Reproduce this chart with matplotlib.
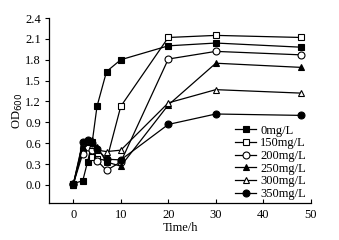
import matplotlib
matplotlib.use("Agg")
import matplotlib.pyplot as plt

plt.rcParams['font.family'] = ['Liberation Serif', 'DejaVu Serif']

times = [0, 2, 3, 4, 5, 7, 10, 20, 30, 48]
labels = ["0mg/L", "150mg/L", "200mg/L", "250mg/L", "300mg/L", "350mg/L"]
od_0 = [0.02, 0.06, 0.33, 0.62, 1.13, 1.63, 1.80, 2.00, 2.04, 1.98]
od_150 = [0.02, 0.50, 0.60, 0.40, 0.38, 0.35, 1.13, 2.12, 2.15, 2.12]
od_200 = [0.01, 0.45, 0.55, 0.50, 0.35, 0.21, 0.33, 1.81, 1.92, 1.87]
od_250 = [0.00, 0.55, 0.62, 0.65, 0.55, 0.33, 0.27, 1.15, 1.75, 1.69]
od_300 = [0.00, 0.60, 0.63, 0.58, 0.50, 0.48, 0.50, 1.18, 1.37, 1.32]
od_350 = [0.01, 0.62, 0.64, 0.60, 0.52, 0.37, 0.36, 0.87, 1.02, 1.00]

series = [od_0, od_150, od_200, od_250, od_300, od_350]
markers = ['s', 's', 'o', '^', '^', 'o']
fills = ['k', 'w', 'w', 'k', 'w', 'k']

fig = plt.figure(figsize=(3.39, 2.40), dpi=100)
ax = fig.add_axes([0.146, 0.154, 0.771, 0.771])

for vals, lab, m, fc in zip(series, labels, markers, fills):
    ax.plot(times, vals, color='k', lw=0.9, marker=m, markersize=5,
            markerfacecolor=fc, markeredgecolor='k', markeredgewidth=0.8,
            label=lab)

ax.set_xlim(-5, 50)
ax.set_ylim(-0.26, 2.4)
ax.set_xticks([0, 10, 20, 30, 40, 50])
ax.set_yticks([0.0, 0.3, 0.6, 0.9, 1.2, 1.5, 1.8, 2.1, 2.4])
ax.set_yticklabels(['0.0', '0.3', '0.6', '0.9', '1.2', '1.5', '1.8', '2.1', '2.4'])
ax.spines['top'].set_visible(False)
ax.spines['right'].set_visible(False)
ax.spines['left'].set_linewidth(0.9)
ax.spines['bottom'].set_linewidth(0.9)
ax.tick_params(axis='x', direction='in', length=3, width=0.8, labelsize=9, pad=4)
ax.tick_params(axis='y', direction='out', length=3, width=0.8, labelsize=9, pad=3)
ax.set_xlabel('Time/h', fontsize=9, labelpad=1)
ax.set_ylabel('OD$_{600}$', fontsize=9, labelpad=0)

leg = ax.legend(loc='lower right', bbox_to_anchor=(1.0, -0.01), frameon=False,
                fontsize=9, handlelength=1.7, handletextpad=0.3,
                labelspacing=0.05, borderaxespad=0.0)

fig.savefig('out.png', dpi=100)
